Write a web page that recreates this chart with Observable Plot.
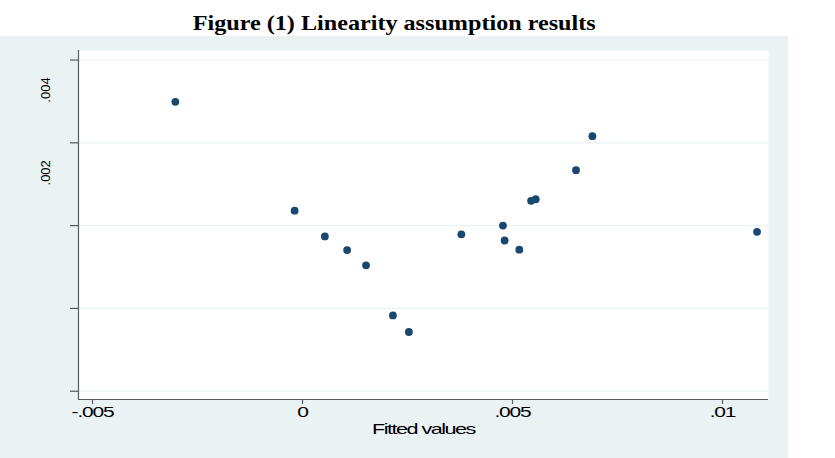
<!DOCTYPE html>
<html>
<head>
<meta charset="utf-8">
<script src="https://cdn.jsdelivr.net/npm/d3@7"></script>
<script src="https://cdn.jsdelivr.net/npm/@observablehq/plot@0.6"></script>
<style>
  html, body { margin: 0; padding: 0; background: #ffffff; }
  #title {
    height: 36px; width: 788px;
    text-align: center;
    font-family: "Liberation Serif", serif;
    font-weight: bold;
    font-size: 21px;
    line-height: 46px;
    color: #000;
  }
  #title span { display: inline-block; transform: scaleX(1.15); }
  #chart svg { display: block; }
</style>
</head>
<body>
<div id="title"><span>Figure (1) Linearity assumption results</span></div>
<div id="chart"></div>
<script>
// Fitted values and residuals of the regression
const fitted = [-0.00298, -0.00014, 0.00058, 0.00111, 0.00156, 0.00220, 0.00258, 0.00383,
                0.00482, 0.00486, 0.00521, 0.00549, 0.00560, 0.00656, 0.00695, 0.01087];
const residuals = [0.00299, 0.00036, -0.00026, -0.00059, -0.00096, -0.00217, -0.00257, -0.00021,
                   0.00000, -0.00036, -0.00058, 0.00060, 0.00064, 0.00134, 0.00216, -0.00015];

// Axis ticks and their labels
const xTicks = [-0.005, 0, 0.005, 0.01];
const xTickLabels = ["-.005", "0", ".005", ".01"];
const yTicks = [0.004, 0.002, 0, -0.002, -0.004];
const yLabelTicks = [0.004, 0.002];
const yTickLabels = [".004", ".002"];
const xDomain = [-0.005286, 0.011143];
const yDomain = [-0.0042, 0.00423];

const points = fitted.map((f, i) => ({fitted: f, residual: residuals[i]}));

const axisColor = "#555b60";
const panel = "#eaf2f3";

const chart = Plot.plot({
  width: 788,
  height: 422,
  marginTop: 14,
  marginBottom: 59,
  marginLeft: 78,
  marginRight: 20,
  style: {background: panel, fontFamily: "Liberation Sans, Arial, sans-serif", color: "#000"},
  x: {domain: xDomain},
  y: {domain: yDomain},
  marks: [
    Plot.frame({fill: "white", stroke: null}),
    Plot.gridY(yTicks, {stroke: panel, strokeOpacity: 1, strokeWidth: 1.2}),
    Plot.ruleX([xDomain[0]], {stroke: axisColor, strokeWidth: 1.2}),
    Plot.ruleY([yDomain[0]], {stroke: axisColor, strokeWidth: 1.2}),
    // y tick marks
    Plot.axisY({
      ticks: yTicks, tickSize: 8, stroke: axisColor, strokeWidth: 1.2,
      text: null, label: null
    }),
    // rotated y tick labels, drawn below their ticks
    Plot.axisY({
      ticks: yLabelTicks, tickSize: 0,
      tickFormat: (d, i) => yTickLabels[i],
      tickRotate: -90, textAnchor: "middle",
      fontSize: 13, dx: -20, dy: 30, label: null
    }),
    Plot.axisX({
      ticks: xTicks, tickSize: 5, stroke: axisColor, strokeWidth: 1.2,
      tickFormat: (d, i) => xTickLabels[i],
      fontSize: 14, tickPadding: 12, dx: 2,
      label: "Fitted values", labelAnchor: "center", labelArrow: "none", labelOffset: 34
    }),
    Plot.dot(points, {x: "fitted", y: "residual", r: 3.9, fill: "#1a476f", stroke: null})
  ]
});

// Stretch the x-axis text horizontally, as in the Stata rendering
function stretch(sel, s, spacing) {
  chart.querySelectorAll(sel).forEach(t => {
    let tr = t.getAttribute("transform") || "";
    if (t.hasAttribute("x") || t.hasAttribute("y")) {
      const x = +t.getAttribute("x") || 0, y = +t.getAttribute("y") || 0;
      t.removeAttribute("x"); t.removeAttribute("y");
      tr = tr + ` translate(${x},${y})`;
    }
    t.setAttribute("transform", tr + ` scale(${s},1)`);
    t.style.letterSpacing = spacing;
  });
}
stretch('g[aria-label="x-axis tick label"] text', 1.5, "-0.8px");
stretch('g[aria-label="x-axis label"] text', 1.55, "-1px");

document.getElementById("chart").appendChild(chart);
</script>
</body>
</html>
